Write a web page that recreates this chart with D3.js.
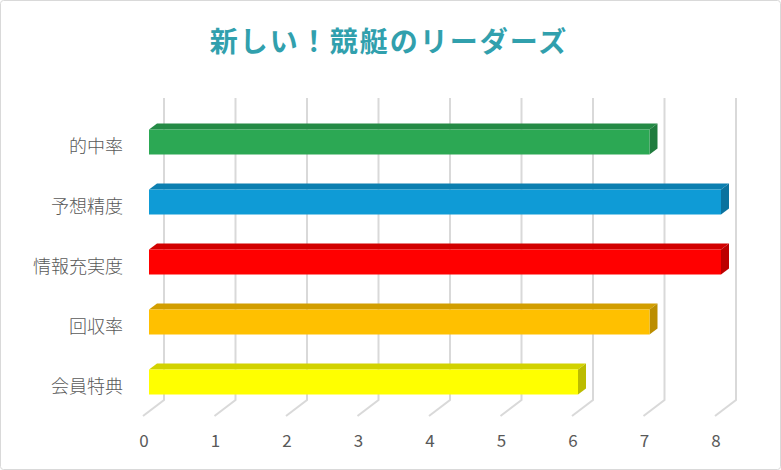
<!DOCTYPE html>
<html>
<head>
<meta charset="utf-8">
<script src="https://cdn.jsdelivr.net/npm/d3@7"></script>
<style>
  body { margin: 0; background: #fff; }
  svg { display: block; font-family: "Noto Sans CJK JP", "Noto Sans", sans-serif; }
</style>
</head>
<body>
<svg width="781" height="470"></svg>
<script>
var categories = ["的中率", "予想精度", "情報充実度", "回収率", "会員特典"];
var values = [7, 8, 8, 7, 6];
var colors = ["#2ca854", "#0f9bd6", "#ff0000", "#ffc000", "#ffff00"];
var tickValues = [0, 1, 2, 3, 4, 5, 6, 7, 8];

var svg = d3.select("svg");
var width = 781, height = 470;

// outer border
svg.append("rect")
    .attr("x", 0.5).attr("y", 0.5)
    .attr("width", width - 1).attr("height", height - 1)
    .attr("rx", 3)
    .attr("fill", "#fff")
    .attr("stroke", "#d9d9d9");

// title
svg.append("text")
    .attr("x", 389).attr("y", 52)
    .attr("text-anchor", "middle")
    .attr("fill", "#31a0ad")
    .attr("font-size", 28)
    .attr("font-weight", "bold")
    .attr("letter-spacing", 2)
    .text("新しい！競艇のリーダーズ");

// scales: front plane and back wall
var x = d3.scaleLinear().domain([0, 8]).range([149, 721]);
var floorDx = 21, floorDy = 16;   // offset front axis -> back wall
var barDx = 8, barDy = 6;         // bar depth
var y = d3.scalePoint().domain(categories).range([141, 381]);
var barH = 25;

var wallTop = 98, wallBottom = 400;
var g = svg.append("g");

// back wall gridlines + floor lines
tickValues.forEach(function (t) {
    var bx = x(t) + floorDx - 6;
    g.append("path")
        .attr("d", "M" + bx + "," + wallTop + "L" + bx + "," + wallBottom +
            "L" + (bx - floorDx) + "," + (wallBottom + floorDy))
        .attr("fill", "none")
        .attr("stroke", "#d9d9d9")
        .attr("stroke-width", 2);
});

// tick labels
g.selectAll(".tick-label")
    .data(tickValues)
    .enter().append("text")
    .attr("x", function (d) { return x(d) - 5; })
    .attr("y", 447)
    .attr("text-anchor", "middle")
    .attr("fill", "#595959")
    .attr("font-size", 17)
    .text(function (d) { return d; });

// category labels
g.selectAll(".cat-label")
    .data(categories)
    .enter().append("text")
    .attr("x", 123)
    .attr("y", function (d) { return y(d) + 12; })
    .attr("text-anchor", "end")
    .attr("fill", "#595959")
    .attr("font-size", 18)
    .attr("font-weight", 300)
    .text(function (d) { return d; });

// 3D bars
var bars = g.selectAll(".bar")
    .data(categories)
    .enter().append("g");

bars.each(function (d, i) {
    var el = d3.select(this);
    var x0 = x(0), x1 = x(values[i]);
    var top = y(d) - barH / 2 + 1, bot = top + barH;
    var c = d3.color(colors[i]);
    // top face
    el.append("path")
        .attr("d", "M" + x0 + "," + top + "L" + (x0 + barDx) + "," + (top - barDy) +
            "L" + (x1 + barDx) + "," + (top - barDy) + "L" + x1 + "," + top + "Z")
        .attr("fill", c.darker(0.55));
    // side face
    el.append("path")
        .attr("d", "M" + x1 + "," + top + "L" + (x1 + barDx) + "," + (top - barDy) +
            "L" + (x1 + barDx) + "," + (bot - barDy) + "L" + x1 + "," + bot + "Z")
        .attr("fill", c.darker(0.85));
    // front face
    el.append("rect")
        .attr("x", x0).attr("y", top)
        .attr("width", x1 - x0).attr("height", barH)
        .attr("fill", colors[i]);
});
</script>
</body>
</html>
